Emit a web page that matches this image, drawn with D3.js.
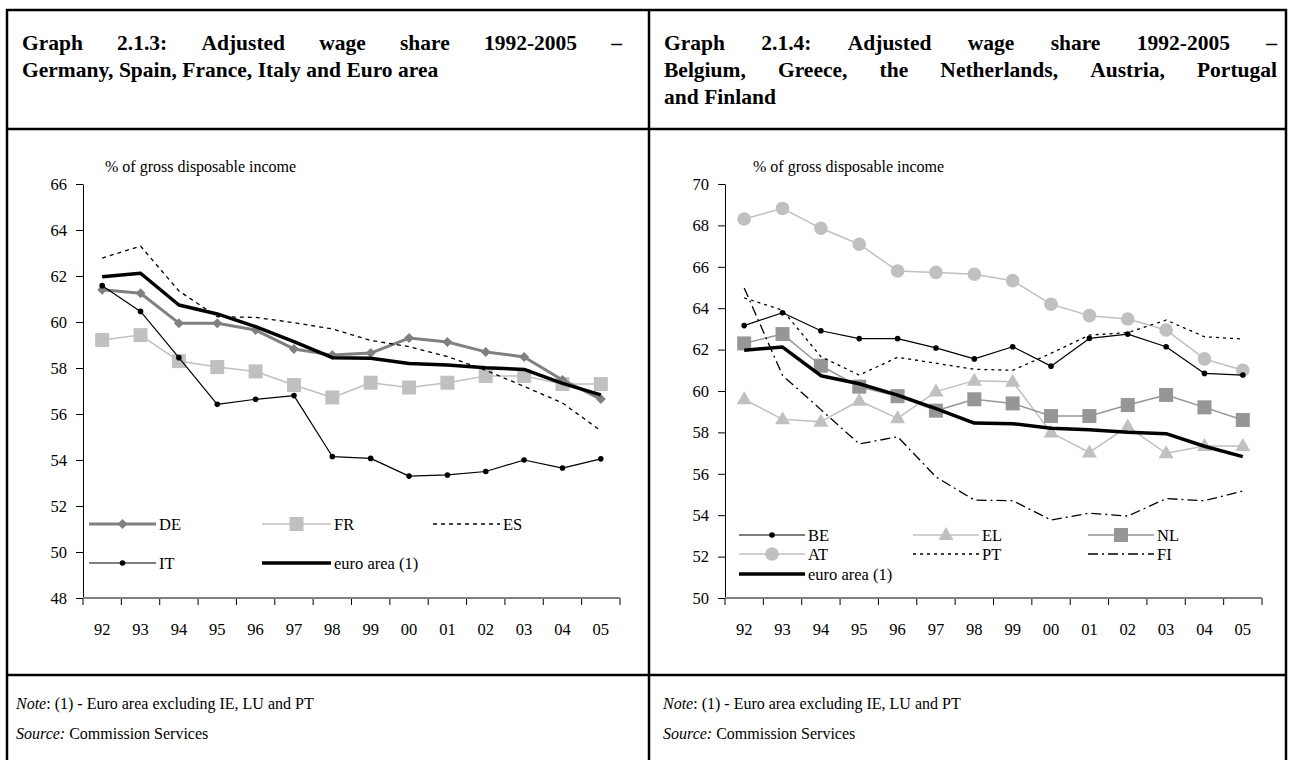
<!DOCTYPE html>
<html>
<head>
<meta charset="utf-8">
<script src="https://d3js.org/d3.v7.min.js"></script>
<style>
  body { margin: 0; background: #fff; }
  svg { display: block; font-family: "Liberation Serif", "Times New Roman", serif; }
</style>
</head>
<body>
<svg id="chart" width="1289" height="760"></svg>
<script>
// ---- data ----
var years = ["92", "93", "94", "95", "96", "97", "98", "99", "00", "01", "02", "03", "04", "05"];

var deValues = [61.4, 61.25, 59.95, 59.95, 59.65, 58.83, 58.56, 58.65, 59.3, 59.13, 58.7, 58.48, 57.48, 56.65];
var frValues = [59.22, 59.43, 58.3, 58.04, 57.85, 57.26, 56.72, 57.36, 57.15, 57.36, 57.65, 57.65, 57.3, 57.3];
var esValues = [62.78, 63.3, 61.35, 60.23, 60.2, 59.97, 59.7, 59.2, 58.93, 58.5, 57.9, 57.2, 56.48, 55.27];
var itValues = [61.58, 60.46, 58.45, 56.42, 56.64, 56.8, 54.15, 54.07, 53.3, 53.35, 53.5, 54.0, 53.65, 54.05];
var euroValues = [61.97, 62.12, 60.74, 60.35, 59.8, 59.15, 58.45, 58.42, 58.2, 58.13, 58.01, 57.94, 57.33, 56.83];

var beValues = [63.16, 63.78, 62.91, 62.53, 62.53, 62.08, 61.55, 62.14, 61.2, 62.54, 62.75, 62.14, 60.85, 60.77];
var elValues = [59.6, 58.63, 58.52, 59.53, 58.68, 59.97, 60.5, 60.45, 57.99, 57.03, 58.28, 56.99, 57.34, 57.34];
var nlValues = [62.3, 62.75, 61.22, 60.21, 59.75, 59.05, 59.6, 59.4, 58.79, 58.79, 59.32, 59.81, 59.21, 58.6];
var atValues = [68.31, 68.82, 67.86, 67.09, 65.8, 65.73, 65.64, 65.33, 64.19, 63.64, 63.48, 62.95, 61.55, 61.0];
var ptValues = [64.5, 63.9, 61.66, 60.77, 61.63, 61.34, 61.05, 61.0, 61.82, 62.7, 62.82, 63.43, 62.62, 62.51];
var fiValues = [64.98, 60.75, 59.1, 57.44, 57.79, 55.85, 54.73, 54.7, 53.77, 54.1, 53.96, 54.8, 54.7, 55.17];

var leftTicks = [48, 50, 52, 54, 56, 58, 60, 62, 64, 66];
var rightTicks = [50, 52, 54, 56, 58, 60, 62, 64, 66, 68, 70];

var svg = d3.select("#chart");

// ---- frame ----
var frame = svg.append("g").attr("stroke", "#000").attr("stroke-width", 2.5).attr("fill", "none");
frame.append("path").attr("d", "M7,771V10H1286V771");
frame.append("line").attr("x1", 7).attr("x2", 1286).attr("y1", 129).attr("y2", 129);
frame.append("line").attr("x1", 7).attr("x2", 1286).attr("y1", 675).attr("y2", 675);
frame.append("line").attr("x1", 649).attr("x2", 649).attr("y1", 10).attr("y2", 771);

// justified title lines
function title(lines, x0, x1, y0) {
  lines.forEach(function(line, li) {
    var words = line.split(" ");
    var y = y0 + li * 27;
    var g = svg.append("g");
    var nodes = words.map(function(w) {
      return g.append("text").attr("y", y).attr("font-size", 21.5).attr("font-weight", "bold").text(w);
    });
    var widths = nodes.map(function(n) { return n.node().getComputedTextLength(); });
    var total = d3.sum(widths);
    var last = li === lines.length - 1;
    var gap = (!last && words.length > 1) ? (x1 - x0 - total) / (words.length - 1) : 5.5;
    var x = x0;
    nodes.forEach(function(n, i) { n.attr("x", x); x += widths[i] + gap; });
  });
}
title(["Graph 2.1.3: Adjusted wage share 1992-2005 \u2013",
       "Germany, Spain, France, Italy and Euro area"], 22, 622, 50);
title(["Graph 2.1.4: Adjusted wage share 1992-2005 \u2013",
       "Belgium, Greece, the Netherlands, Austria, Portugal",
       "and Finland"], 664, 1277, 50);

// notes
function note(x, sep) {
  var t = svg.append("text").attr("x", x).attr("y", 709).attr("font-size", 16);
  t.append("tspan").attr("font-style", "italic").text("Note");
  t.append("tspan").text(sep + " (1) - Euro area excluding IE, LU and PT");
  var s = svg.append("text").attr("x", x).attr("y", 739).attr("font-size", 16);
  s.append("tspan").attr("font-style", "italic").text("Source:");
  s.append("tspan").text(" Commission Services");
}

// marker shapes
function marker(g, type, cx, cy, fill) {
  if (type === "diamond") {
    g.append("path").attr("d", "M0,-5L5,0L0,5L-5,0Z").attr("fill", fill)
      .attr("transform", "translate(" + cx + "," + cy + ")");
  } else if (type === "square") {
    g.append("rect").attr("x", cx - 7).attr("y", cy - 7).attr("width", 14).attr("height", 14).attr("fill", fill);
  } else if (type === "triangle") {
    g.append("path").attr("d", "M0,-8L7.5,5L-7.5,5Z").attr("fill", fill)
      .attr("transform", "translate(" + cx + "," + cy + ")");
  } else if (type === "circle") {
    g.append("circle").attr("cx", cx).attr("cy", cy).attr("r", 6.8).attr("fill", fill);
  } else if (type === "dot") {
    g.append("circle").attr("cx", cx).attr("cy", cy).attr("r", 2.8).attr("fill", fill);
  }
}

function panel(opt) {
  var x = d3.scaleBand().domain(years).range([opt.x0, opt.x1]);
  var y = d3.scaleLinear().domain(opt.domain).range([598, 184]);
  var g = svg.append("g");

  // y axis
  var ya = g.append("g").attr("transform", "translate(" + opt.x0 + ",0)")
    .call(d3.axisLeft(y).tickValues(opt.ticks).tickSize(7).tickSizeOuter(0).tickPadding(9));
  ya.select(".domain").attr("stroke", "#000").attr("stroke-width", 1);
  ya.selectAll(".tick line").attr("stroke", "#000");
  ya.selectAll("text").attr("font-size", 16.5).attr("font-family", "Liberation Serif, serif").attr("fill", "#000");

  // x axis: labels centred in bands, ticks on band edges
  var xa = g.append("g").attr("transform", "translate(0,598)")
    .call(d3.axisBottom(x).tickSize(0).tickPadding(25));
  xa.select(".domain").remove();
  xa.selectAll("text").attr("font-size", 16.5).attr("font-family", "Liberation Serif, serif").attr("fill", "#000");
  var edges = years.map(function(d) { return x(d); }).concat([x(years[years.length - 1]) + x.bandwidth()]);
  g.selectAll(".xedge").data(edges).enter().append("line")
    .attr("x1", function(d) { return d; }).attr("x2", function(d) { return d; })
    .attr("y1", 598).attr("y2", 605).attr("stroke", "#000").attr("stroke-width", 1);
  g.append("line").attr("x1", opt.x0).attr("x2", opt.x1).attr("y1", 598).attr("y2", 598)
    .attr("stroke", "#808080").attr("stroke-width", 2);

  g.append("text").attr("x", opt.unitX).attr("y", 172).attr("font-size", 16).text("% of gross disposable income");

  var line = d3.line().x(function(d, i) { return x(years[i]) + x.bandwidth() / 2; }).y(function(d) { return y(d); });

  opt.series.forEach(function(s) {
    g.append("path").datum(s.values).attr("d", line).attr("fill", "none")
      .attr("stroke", s.stroke).attr("stroke-width", s.width)
      .attr("stroke-dasharray", s.dash || null).attr("stroke-linejoin", "round");
    if (s.marker) {
      var mg = g.append("g");
      s.values.forEach(function(v, i) {
        marker(mg, s.marker, x(years[i]) + x.bandwidth() / 2, y(v), s.fill);
      });
    }
  });

  // legend
  var lg = svg.append("g");
  opt.legend.forEach(function(item) {
    var s = opt.series.filter(function(d) { return d.name === item.name; })[0];
    lg.append("line").attr("x1", item.x).attr("x2", item.x + item.w).attr("y1", item.y).attr("y2", item.y)
      .attr("stroke", s.stroke).attr("stroke-width", s.width).attr("stroke-dasharray", s.dash || null);
    if (s.marker) marker(lg, s.marker, item.x + item.w / 2, item.y, s.fill);
    lg.append("text").attr("x", item.x + item.w + 3).attr("y", item.y).attr("dy", "0.35em")
      .attr("font-size", 16.5).text(item.name);
  });
}

panel({
  x0: 83, x1: 620, domain: [48, 66], ticks: leftTicks, unitX: 105,
  series: [
    { name: "FR", values: frValues, stroke: "#c0c0c0", width: 1.5, marker: "square", fill: "#c0c0c0" },
    { name: "DE", values: deValues, stroke: "#808080", width: 3, marker: "diamond", fill: "#808080" },
    { name: "ES", values: esValues, stroke: "#000", width: 1.3, dash: "4,4" },
    { name: "IT", values: itValues, stroke: "#000", width: 1.2, marker: "dot", fill: "#000" },
    { name: "euro area (1)", values: euroValues, stroke: "#000", width: 3.5 }
  ],
  legend: [
    { name: "DE", x: 89, y: 524, w: 67 },
    { name: "FR", x: 262, y: 524, w: 69 },
    { name: "ES", x: 433, y: 524, w: 67 },
    { name: "IT", x: 89, y: 563, w: 67 },
    { name: "euro area (1)", x: 262, y: 563, w: 69 }
  ]
});

panel({
  x0: 725, x1: 1262, domain: [50, 70], ticks: rightTicks, unitX: 753,
  series: [
    { name: "AT", values: atValues, stroke: "#c0c0c0", width: 1.5, marker: "circle", fill: "#c0c0c0" },
    { name: "EL", values: elValues, stroke: "#c0c0c0", width: 1.5, marker: "triangle", fill: "#c0c0c0" },
    { name: "NL", values: nlValues, stroke: "#969696", width: 1.5, marker: "square", fill: "#969696" },
    { name: "BE", values: beValues, stroke: "#000", width: 1.2, marker: "dot", fill: "#000" },
    { name: "PT", values: ptValues, stroke: "#000", width: 1.3, dash: "3,4" },
    { name: "FI", values: fiValues, stroke: "#000", width: 1.3, dash: "10,4,2,4" },
    { name: "euro area (1)", values: euroValues, stroke: "#000", width: 3.5 }
  ],
  legend: [
    { name: "BE", x: 739, y: 535, w: 66 },
    { name: "EL", x: 913, y: 535, w: 66 },
    { name: "NL", x: 1088, y: 535, w: 66 },
    { name: "AT", x: 739, y: 554, w: 66 },
    { name: "PT", x: 913, y: 554, w: 66 },
    { name: "FI", x: 1088, y: 554, w: 66 },
    { name: "euro area (1)", x: 739, y: 574, w: 66 }
  ]
});

note(16, ":");
note(663, ":");
</script>
</body>
</html>
